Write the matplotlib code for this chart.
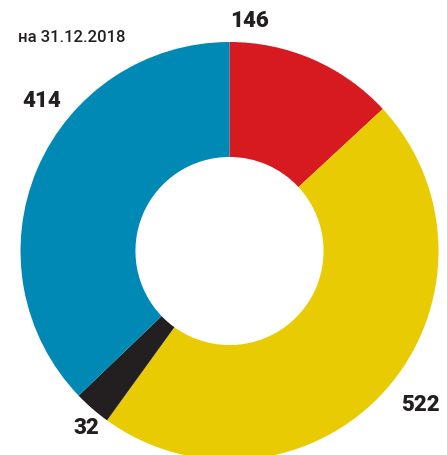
import matplotlib
matplotlib.use("Agg")
import matplotlib.pyplot as plt

values = [146, 522, 32, 414]
labels = ["146", "522", "32", "414"]
colors = ["#D71920", "#E9CB03", "#231F20", "#0089B4"]
date_label = "на 31.12.2018"

W, H = 447, 455
fig = plt.figure(figsize=(W / 100, H / 100), dpi=100)
cx, cy, R = 229.5, 251, 209
ax = fig.add_axes([(cx - R) / W, (H - cy - R) / H, 2 * R / W, 2 * R / H])
ax.pie(values, colors=colors, startangle=90, counterclock=False,
       radius=1.0, wedgeprops=dict(width=0.55, linewidth=0))
ax.set_xlim(-1, 1)
ax.set_ylim(-1, 1)
ax.set_aspect("equal")
ax.axis("off")

lab_pos = [(249, 21), (420, 405), (86, 428), (42, 101)]
for t, (x, y) in zip(labels, lab_pos):
    fig.text(x / W, 1 - y / H, t, ha="center", va="center",
             fontsize=16, fontweight="black", family=["Roboto", "DejaVu Sans"],
             color="#231F20")

fig.text(18 / W, 1 - 38 / H, date_label, ha="left", va="center",
         fontsize=12, fontweight="medium", family=["Roboto", "DejaVu Sans"],
         color="#231F20")

fig.savefig("out.png", dpi=100)
